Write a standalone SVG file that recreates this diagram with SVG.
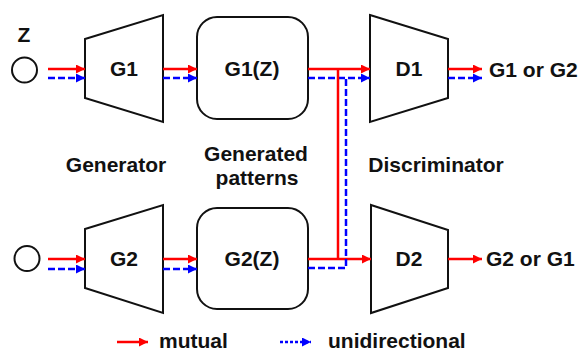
<svg xmlns="http://www.w3.org/2000/svg" width="581" height="351" viewBox="0 0 581 351">
<style>
text{font-family:"Liberation Sans",Arial,sans-serif;font-weight:bold;font-size:21px;fill:#111}
.mid{text-anchor:middle}
.shape{fill:#fff;stroke:#111;stroke-width:2}
.red{fill:none;stroke:#f00;stroke-width:2.5}
.blue{fill:none;stroke:#00f;stroke-width:2.5;stroke-dasharray:7 3}
.dot{fill:none;stroke:#00f;stroke-width:2.5;stroke-dasharray:3 2}
</style>
<defs>
<marker id="ar" markerUnits="userSpaceOnUse" markerWidth="9" markerHeight="9" refX="9" refY="4.5" orient="auto"><path d="M0,0 L9,4.5 L0,9 z" fill="#f00"/></marker>
<marker id="ab" markerUnits="userSpaceOnUse" markerWidth="9" markerHeight="9" refX="9" refY="4.5" orient="auto"><path d="M0,0 L9,4.5 L0,9 z" fill="#00f"/></marker>
</defs>
<g id="z1"><circle cx="24.5" cy="70" r="12.5" fill="#fff" stroke="#111" stroke-width="2"/><text class="mid" x="24" y="42">Z</text></g>
<g id="z2"><circle cx="27" cy="258.5" r="12.5" fill="#fff" stroke="#111" stroke-width="2"/></g>
<g id="G1"><polygon class="shape" points="85,39 163,15 163,122 85,98"/><text class="mid" x="124" y="76">G1</text></g>
<g id="G2"><polygon class="shape" points="85,229 163,205 163,313 85,288"/><text class="mid" x="124" y="266">G2</text></g>
<g id="G1Z"><rect class="shape" x="197" y="17" width="111" height="102" rx="20"/><text class="mid" x="252" y="76">G1(Z)</text></g>
<g id="G2Z"><rect class="shape" x="197" y="208" width="111" height="101" rx="20"/><text class="mid" x="252" y="266">G2(Z)</text></g>
<g id="D1"><polygon class="shape" points="370,15 448,39 448,98 370,122"/><text class="mid" x="409" y="76">D1</text></g>
<g id="D2"><polygon class="shape" points="371,205 448,230 448,288 371,313"/><text class="mid" x="409" y="266">D2</text></g>
<g id="out1"><text x="489" y="77">G1 or G2</text></g>
<g id="out2"><text x="486" y="266">G2 or G1</text></g>
<g id="labels">
<text class="mid" x="116" y="172">Generator</text>
<text class="mid" x="256" y="161">Generated</text>
<text class="mid" x="257" y="185">patterns</text>
<text class="mid" x="436" y="172">Discriminator</text>
</g>
<g id="connectors">
<line class="red" x1="48" y1="69" x2="85" y2="69" marker-end="url(#ar)"/>
<line class="blue" x1="48" y1="78" x2="85" y2="78" marker-end="url(#ab)"/>
<line class="red" x1="48" y1="259" x2="85" y2="259" marker-end="url(#ar)"/>
<line class="blue" x1="48" y1="269" x2="85" y2="269" marker-end="url(#ab)"/>
<line class="red" x1="163" y1="69" x2="197" y2="69" marker-end="url(#ar)"/>
<line class="blue" x1="163" y1="78" x2="197" y2="78" marker-end="url(#ab)"/>
<line class="red" x1="163" y1="259" x2="197" y2="259" marker-end="url(#ar)"/>
<line class="blue" x1="163" y1="269" x2="197" y2="269" marker-end="url(#ab)"/>
<line class="red" x1="308" y1="69" x2="370" y2="69" marker-end="url(#ar)"/>
<line class="blue" x1="308" y1="78" x2="370" y2="78" marker-end="url(#ab)"/>
<line class="red" x1="338" y1="69" x2="338" y2="259"/>
<line class="red" x1="308" y1="259" x2="371" y2="259" marker-end="url(#ar)"/>
<polyline class="blue" points="308,268 346,268 346,78"/>
<line class="red" x1="448" y1="69" x2="482" y2="69" marker-end="url(#ar)"/>
<line class="blue" x1="448" y1="78" x2="482" y2="78" marker-end="url(#ab)"/>
<line class="red" x1="448" y1="259" x2="482" y2="259" marker-end="url(#ar)"/>
</g>
<g id="legend">
<line class="red" x1="117" y1="342" x2="148" y2="342" marker-end="url(#ar)"/>
<text x="159" y="348">mutual</text>
<line class="dot" x1="280" y1="342" x2="311" y2="342" marker-end="url(#ab)"/>
<text x="328" y="348">unidirectional</text>
</g>
</svg>
